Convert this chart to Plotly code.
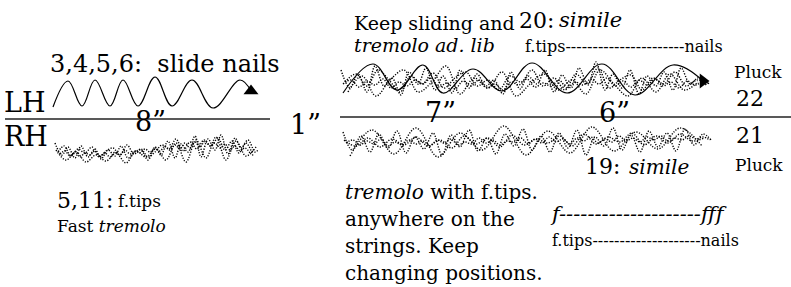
import plotly.graph_objects as go

# ---------------- data ----------------
# left-hand slide wave (peaks / troughs), first section
lh_wave_x = [53, 68, 82, 95, 110, 123, 138, 155, 172, 192, 213, 240, 251]
lh_wave_y = [107, 81, 106, 80, 106, 80, 106, 77, 106, 80, 108, 80, 91]

# sliding wave, second section
r_wave_x = [343, 373, 397, 423, 443, 473, 502, 532, 567, 602, 635, 673, 703]
r_wave_y = [93, 64, 90, 65, 93, 69, 91, 63, 93, 64, 95, 65, 81]

# dotted tremolo scribbles, right hand, first section
rh1_x = [55, 62, 68, 75, 81, 88, 95, 101, 108, 115, 121, 128, 135, 141, 148, 155, 161, 168, 175, 181,
         188, 195, 201, 208, 215, 221, 228, 235, 241, 248, 255, 258]
rh1_y = [143, 155, 147, 158, 146, 157, 149, 159, 150, 156, 146, 158, 152, 150, 160, 147, 155, 141, 158, 144,
         152, 136, 157, 139, 150, 135, 154, 138, 148, 140, 152, 150]
rh2_x = [56, 66, 76, 86, 96, 106, 116, 126, 136, 146, 156, 166, 176, 186, 196, 206, 216, 226, 236, 246, 256]
rh2_y = [150, 160, 152, 162, 155, 161, 153, 163, 151, 157, 149, 160, 143, 162, 140, 158, 137, 160, 141, 156, 147]
rh3_x = [58, 64, 71, 78, 85, 92, 99, 106, 113, 120, 127, 134, 141, 148, 155, 162, 169, 176, 183, 190,
         197, 204, 211, 218, 225, 232, 239, 246, 253]
rh3_y = [152, 146, 156, 149, 153, 147, 157, 151, 148, 155, 145, 154, 149, 157, 152, 145, 149, 139, 151, 142,
         149, 140, 146, 138, 150, 141, 153, 143, 156]
rh4_x = [60, 65, 70, 75, 80, 85, 90, 95, 100, 105, 110, 115, 120, 125, 130, 135, 140, 145, 150, 155,
         160, 165, 170, 175, 180, 185, 190, 195, 200, 205, 210, 215, 220, 225, 230, 235, 240, 245, 250]
rh4_y = [154, 151, 156, 152, 157, 153, 155, 151, 156, 153, 157, 152, 155, 150, 154, 151, 153, 149, 152, 148,
         151, 146, 150, 145, 149, 143, 148, 142, 147, 141, 146, 143, 148, 144, 150, 146, 151, 148, 153]

# dotted tremolo scribbles, upper (LH) band, second section
up1_x = [341, 350, 358, 367, 375, 384, 392, 401, 409, 418, 426, 435, 443, 452, 460, 469, 477, 486, 494, 503,
         511, 520, 528, 537, 545, 554, 562, 571, 579, 588, 596, 605, 613, 622, 630, 639, 647, 656, 664, 673,
         681, 690, 698, 707]
up1_y = [70, 88, 74, 92, 66, 86, 78, 95, 72, 84, 68, 90, 76, 93, 70, 88, 74, 86, 80, 94,
         72, 89, 76, 84, 70, 92, 75, 88, 68, 85, 62, 90, 74, 88, 70, 94, 76, 86, 72, 90,
         68, 84, 78, 86]
up2_x = [345, 356, 367, 378, 389, 400, 411, 422, 433, 444, 455, 466, 477, 488, 499, 510, 521, 532, 543, 554,
         565, 576, 587, 598, 609, 620, 631, 642, 653, 664, 675, 686, 697, 708]
up2_y = [82, 74, 86, 70, 80, 92, 76, 84, 73, 88, 78, 72, 86, 80, 90, 76, 82, 70, 86, 78,
         90, 74, 84, 68, 88, 80, 75, 90, 78, 84, 72, 86, 80, 83]
up3_x = [343, 351, 359, 367, 375, 383, 391, 399, 407, 415, 423, 431, 439, 447, 455, 463, 471, 479, 487, 495,
         503, 511, 519, 527, 535, 543, 551, 559, 567, 575, 583, 591, 599, 607, 615, 623, 631, 639, 647, 655,
         663, 671, 679, 687, 695, 703, 710]
up3_y = [84, 80, 87, 81, 85, 79, 88, 82, 86, 80, 84, 78, 87, 83, 89, 81, 86, 80, 88, 84,
         90, 82, 85, 79, 87, 83, 86, 80, 88, 82, 85, 79, 84, 78, 86, 81, 87, 80, 85, 79,
         86, 82, 88, 81, 85, 82, 84]
up4_x = [348, 362, 376, 390, 404, 418, 432, 446, 460, 474, 488, 502, 516, 530, 544, 558, 572, 586, 600, 614,
         628, 642, 656, 670, 684, 698]
up4_y = [92, 76, 96, 80, 70, 92, 82, 66, 94, 78, 88, 72, 96, 84, 74, 90, 80, 94, 70, 84,
         96, 78, 92, 74, 90, 82]

# dotted tremolo scribbles, lower (RH) band, second section
dn1_x = [343, 352, 361, 370, 379, 388, 397, 406, 415, 424, 433, 442, 451, 460, 469, 478, 487, 496, 505, 514,
         523, 532, 541, 550, 559, 568, 577, 586, 595, 604, 613, 622, 631, 640, 649, 658, 667, 676, 685, 694,
         703, 711]
dn1_y = [132, 150, 136, 152, 134, 148, 131, 153, 137, 149, 133, 155, 135, 147, 130, 151, 138, 154, 134, 146,
         129, 150, 136, 152, 133, 148, 130, 155, 137, 146, 128, 150, 135, 152, 131, 147, 133, 151, 129, 145,
         134, 140]
dn2_x = [344, 356, 368, 380, 392, 404, 416, 428, 440, 452, 464, 476, 488, 500, 512, 524, 536, 548, 560, 572,
         584, 596, 608, 620, 632, 644, 656, 668, 680, 692, 704]
dn2_y = [140, 146, 138, 147, 139, 145, 137, 146, 140, 148, 136, 144, 138, 147, 135, 145, 139, 143, 136, 146,
         134, 144, 137, 142, 133, 145, 136, 143, 134, 141, 138]
dn3_x = [346, 353, 360, 367, 374, 381, 388, 395, 402, 409, 416, 423, 430, 437, 444, 451, 458, 465, 472, 479,
         486, 493, 500, 507, 514, 521, 528, 535, 542, 549, 556, 563, 570, 577, 584, 591, 598, 605, 612, 619,
         626, 633, 640, 647, 654, 661, 668, 675, 682, 689, 696, 703, 710]
dn3_y = [143, 140, 145, 141, 144, 139, 146, 142, 145, 140, 144, 141, 146, 140, 143, 139, 145, 142, 144, 138,
         143, 140, 145, 141, 142, 138, 144, 139, 143, 137, 142, 139, 144, 138, 141, 137, 143, 139, 142, 136,
         141, 138, 142, 137, 140, 136, 141, 138, 140, 136, 139, 137, 140]
dn4_x = [350, 372, 394, 416, 438, 460, 482, 504, 526, 548, 570, 592, 614, 636, 658, 680, 702]
dn4_y = [156, 130, 154, 128, 157, 133, 150, 126, 155, 131, 153, 127, 151, 132, 149, 128, 146]

# texts
labels = [
    "3,4,5,6:  slide nails", "LH", "RH", "8\u201d", "5,11:", "f.tips", "Fast <i>tremolo</i>",
    "1\u201d",
    "Keep sliding and", "<i>tremolo ad. lib</i>", "20:", "<i>simile</i>",
    "f.tips----------------------nails",
    "7\u201d", "6\u201d", "Pluck", "22", "21", "Pluck", "19:", "<i>simile</i>",
    "<i>tremolo</i> with f.tips.", "anywhere on the", "strings. Keep", "changing positions.",
    "<i>f--------------------fff</i>", "f.tips--------------------nails",
]

# ---------------- layout / styles ----------------
label_pos = [  # x, y, size, anchor
    (48, 64, 24, "left"), (2, 102, 27, "left"), (2, 136, 27, "left"), (150, 121, 27, "center"),
    (55, 200, 22, "left"), (116, 201, 17, "left"), (55, 226, 17, "left"),
    (305, 124, 27, "center"),
    (352, 23, 19, "left"), (352, 45, 19, "left"), (517, 20, 22, "left"), (557, 20, 21, "left"),
    (523, 46, 16, "left"),
    (440, 112, 27, "center"), (614, 112, 27, "center"), (732, 72, 17, "left"),
    (750, 98, 22, "center"), (750, 135, 22, "center"), (733, 165, 17, "left"),
    (583, 166, 22, "left"), (627, 167, 20, "left"),
    (343, 192, 20, "left"), (343, 219, 20, "left"), (343, 246, 20, "left"), (343, 273, 20, "left"),
    (548, 214, 21, "left"), (550, 240, 16, "left"),
]

FONT = "DejaVu Serif"
DOTS = "1.2px,1.5px"
fig = go.Figure()

scribbles = [(rh1_x, rh1_y), (rh2_x, rh2_y), (rh3_x, rh3_y), (rh4_x, rh4_y),
             (up1_x, up1_y), (up2_x, up2_y), (up3_x, up3_y), (up4_x, up4_y),
             (dn1_x, dn1_y), (dn2_x, dn2_y), (dn3_x, dn3_y), (dn4_x, dn4_y)]
for xs, ys in scribbles:
    fig.add_trace(go.Scatter(x=xs, y=ys, mode="lines", hoverinfo="skip",
                             line=dict(color="black", width=1.4, dash=DOTS,
                                       shape="spline", smoothing=1.0)))

for xs, ys, ang in [(lh_wave_x, lh_wave_y, 0), (r_wave_x, r_wave_y, 90)]:
    fig.add_trace(go.Scatter(x=xs, y=ys, mode="lines", hoverinfo="skip",
                             line=dict(color="black", width=1.2, shape="spline", smoothing=1.1)))
    fig.add_trace(go.Scatter(x=[xs[-1]], y=[ys[-1]], mode="markers", hoverinfo="skip",
                             marker=dict(symbol="triangle-up", size=13, color="black", angle=ang)))

# staff lines
fig.add_shape(type="line", x0=5, x1=270, y0=119, y1=119, line=dict(color="#222", width=1.5))
fig.add_shape(type="line", x0=340, x1=791, y0=117, y1=117, line=dict(color="#222", width=1.5))

for txt, (x, y, s, anc) in zip(labels, label_pos):
    fig.add_annotation(x=x, y=y, text=txt, showarrow=False, xanchor=anc, yanchor="middle",
                       font=dict(family=FONT, size=s, color="black"))

fig.update_layout(
    width=791, height=287, margin=dict(l=0, r=0, t=0, b=0),
    paper_bgcolor="white", plot_bgcolor="white", showlegend=False,
    xaxis=dict(range=[0, 791], visible=False, fixedrange=True),
    yaxis=dict(range=[287, 0], visible=False, fixedrange=True),
)
fig.write_html("out.html", config={"displayModeBar": False},
               post_script="document.body.style.margin='0px';document.body.style.overflow='hidden';")
